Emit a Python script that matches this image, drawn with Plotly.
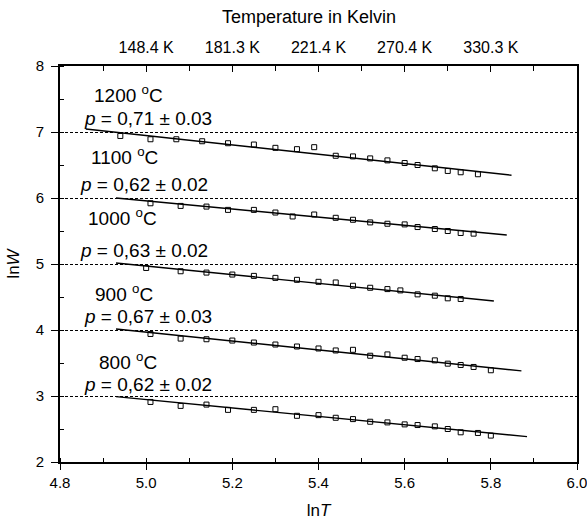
import plotly.graph_objects as go

# ---------------- data ----------------
series_names = ["1200", "1100", "1000", "900", "800"]

lnT_1200 = [4.94, 5.01, 5.07, 5.13, 5.19, 5.25, 5.30, 5.35, 5.39, 5.44, 5.48, 5.52, 5.56, 5.60, 5.63, 5.67, 5.70, 5.73, 5.77]
lnW_1200 = [6.94, 6.89, 6.89, 6.86, 6.83, 6.81, 6.76, 6.74, 6.77, 6.64, 6.63, 6.60, 6.57, 6.53, 6.50, 6.45, 6.41, 6.39, 6.36]

lnT_1100 = [5.01, 5.08, 5.14, 5.19, 5.25, 5.30, 5.34, 5.39, 5.44, 5.48, 5.52, 5.56, 5.60, 5.63, 5.67, 5.70, 5.73, 5.76]
lnW_1100 = [5.92, 5.88, 5.87, 5.82, 5.82, 5.78, 5.72, 5.75, 5.70, 5.67, 5.63, 5.61, 5.60, 5.56, 5.53, 5.50, 5.47, 5.46]

lnT_1000 = [5.00, 5.08, 5.14, 5.20, 5.25, 5.30, 5.35, 5.40, 5.44, 5.48, 5.52, 5.56, 5.59, 5.63, 5.67, 5.70, 5.73]
lnW_1000 = [4.94, 4.89, 4.87, 4.84, 4.82, 4.79, 4.76, 4.73, 4.72, 4.67, 4.64, 4.62, 4.60, 4.54, 4.52, 4.48, 4.47]

lnT_900 = [5.01, 5.08, 5.14, 5.20, 5.25, 5.30, 5.35, 5.40, 5.44, 5.48, 5.52, 5.56, 5.60, 5.63, 5.67, 5.70, 5.73, 5.76, 5.80]
lnW_900 = [3.94, 3.87, 3.86, 3.84, 3.81, 3.78, 3.75, 3.72, 3.69, 3.70, 3.61, 3.63, 3.58, 3.56, 3.54, 3.49, 3.47, 3.44, 3.39]

lnT_800 = [5.01, 5.08, 5.14, 5.19, 5.25, 5.30, 5.35, 5.40, 5.44, 5.48, 5.52, 5.56, 5.60, 5.63, 5.67, 5.70, 5.73, 5.77, 5.80]
lnW_800 = [2.91, 2.85, 2.87, 2.79, 2.79, 2.80, 2.70, 2.71, 2.67, 2.65, 2.61, 2.60, 2.57, 2.56, 2.54, 2.50, 2.45, 2.44, 2.40]

# linear fits: start/end points of each fitted line
fit_x0 = [4.86, 4.93, 4.93, 4.93, 4.93]
fit_y0 = [7.045, 6.00, 5.015, 4.015, 2.99]
fit_x1 = [5.848, 5.837, 5.807, 5.871, 5.884]
fit_y1 = [6.345, 5.44, 4.44, 3.38, 2.384]

p_labels = ["0,71 ± 0.03", "0,62 ± 0.02", "0,63 ± 0.02", "0,67 ± 0.03", "0,62 ± 0.02"]

bottom_tickvals = [4.8, 5.0, 5.2, 5.4, 5.6, 5.8, 6.0]
bottom_ticktext = ["4.8", "5.0", "5.2", "5.4", "5.6", "5.8", "6.0"]
top_tickvals = [5.0, 5.2, 5.4, 5.6, 5.8]
top_ticktext = ["148.4 K", "181.3 K", "221.4 K", "270.4 K", "330.3 K"]

xs = [lnT_1200, lnT_1100, lnT_1000, lnT_900, lnT_800]
ys = [lnW_1200, lnW_1100, lnW_1000, lnW_900, lnW_800]

# ---------------- figure ----------------
FONT = "Arial, Liberation Sans, sans-serif"
fig = go.Figure()

for i in range(len(series_names)):
    fig.add_trace(go.Scatter(
        x=[fit_x0[i], fit_x1[i]], y=[fit_y0[i], fit_y1[i]],
        mode="lines", line=dict(color="black", width=1.4),
        showlegend=False, hoverinfo="skip"))
    fig.add_trace(go.Scatter(
        x=xs[i], y=ys[i], mode="markers",
        marker=dict(symbol="square-open", size=5, color="black",
                    line=dict(width=1, color="black")),
        showlegend=False))

# invisible trace to activate the top axis
fig.add_trace(go.Scatter(x=[5.0], y=[2], xaxis="x2", mode="markers",
                         marker=dict(opacity=0), showlegend=False, hoverinfo="skip"))

# label placement
temp_pos = [(4.874, 7.57), (4.867, 6.64), (4.860, 5.71), (4.877, 4.56), (4.885, 3.53)]
p_pos = [(4.851, 7.20), (4.842, 6.21), (4.842, 5.20), (4.851, 4.20), (4.851, 3.18)]

annotations = []
for i in range(len(series_names)):
    annotations.append(dict(
        x=temp_pos[i][0], y=temp_pos[i][1], xref="x", yref="y",
        text=f"{series_names[i]} <sup>o</sup>C", showarrow=False,
        xanchor="left", yanchor="middle",
        font=dict(family=FONT, size=19, color="black")))
    annotations.append(dict(
        x=p_pos[i][0], y=p_pos[i][1], xref="x", yref="y",
        text=f"<i>p</i> = {p_labels[i]}", showarrow=False,
        xanchor="left", yanchor="middle",
        font=dict(family=FONT, size=19, color="black")))

annotations.append(dict(
    x=0.482, y=1.124, xref="paper", yref="paper",
    text="Temperature in Kelvin", showarrow=False,
    xanchor="center", yanchor="middle",
    font=dict(family=FONT, size=18, color="black")))

fig.update_layout(
    width=587, height=522,
    margin=dict(l=60, r=10, t=66, b=60),
    paper_bgcolor="white", plot_bgcolor="white",
    showlegend=False,
    annotations=annotations,
    xaxis=dict(
        range=[4.8, 6.0], tickvals=bottom_tickvals, ticktext=bottom_ticktext,
        ticks="outside", ticklen=6, tickwidth=1.3, tickcolor="black",
        minor=dict(dtick=0.1, ticks="inside", ticklen=4, tickwidth=1.3, tickcolor="black", showgrid=False),
        showline=True, linecolor="black", linewidth=1.6, mirror=False,
        showgrid=False, zeroline=False, automargin=False,
        ticklabeloverflow="allow",
        tickfont=dict(family=FONT, size=15, color="black"),
        title=dict(text="ln<i>T</i>", font=dict(family=FONT, size=17, color="black"), standoff=14),
    ),
    xaxis2=dict(
        overlaying="x", side="top", matches="x", range=[4.8, 6.0],
        tickvals=top_tickvals, ticktext=top_ticktext,
        ticks="inside", ticklen=6, tickwidth=1.3, tickcolor="black",
        minor=dict(dtick=0.1, ticks="inside", ticklen=5, tickwidth=1.3, tickcolor="black", showgrid=False),
        showline=True, linecolor="black", linewidth=1.6,
        showgrid=False, zeroline=False, ticklabelstandoff=5, automargin=False,
        ticklabeloverflow="allow",
        tickfont=dict(family=FONT, size=16, color="black"),
    ),
    yaxis=dict(
        range=[2, 8], dtick=1, tick0=2,
        ticks="outside", ticklen=7, tickwidth=1.3, tickcolor="black",
        minor=dict(dtick=0.5, ticks="inside", ticklen=4, tickwidth=1.3, tickcolor="black", showgrid=False),
        showline=True, linecolor="black", linewidth=1.6, mirror=True,
        showgrid=True, gridcolor="black", gridwidth=1, griddash="3px,2px",
        zeroline=False, ticklabelstandoff=4, automargin=False,
        tickfont=dict(family=FONT, size=15, color="black"),
        title=dict(text="ln<i>W</i>", font=dict(family=FONT, size=17, color="black"), standoff=12),
    ),
)

fig.write_html("out.html")
